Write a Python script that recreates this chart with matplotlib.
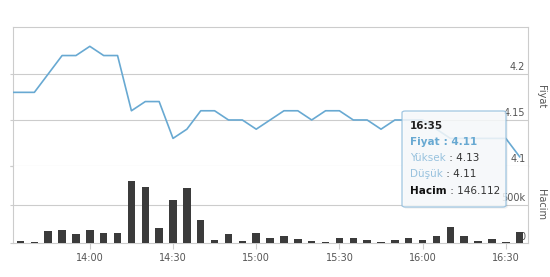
import matplotlib.pyplot as plt
from matplotlib.patches import FancyBboxPatch
from matplotlib.text import Annotation
from matplotlib.ticker import FuncFormatter

# fiyat 13:30'dan itibaren, hacim 13:35'ten itibaren (5 dakikalik)
price_times = ["13:30", "13:35", "13:40", "13:45", "13:50", "13:55",
               "14:00", "14:05", "14:10", "14:15", "14:20", "14:25",
               "14:30", "14:35", "14:40", "14:45", "14:50", "14:55",
               "15:00", "15:05", "15:10", "15:15", "15:20", "15:25",
               "15:30", "15:35", "15:40", "15:45", "15:50", "15:55",
               "16:00", "16:05", "16:10", "16:15", "16:20", "16:25",
               "16:30", "16:35"]
prices = [4.18, 4.18, 4.18, 4.20, 4.22, 4.22,
          4.23, 4.22, 4.22, 4.16, 4.17, 4.17,
          4.13, 4.14, 4.16, 4.16, 4.15, 4.15,
          4.14, 4.15, 4.16, 4.16, 4.15, 4.16,
          4.16, 4.15, 4.15, 4.14, 4.15, 4.15,
          4.15, 4.14, 4.13, 4.13, 4.13, 4.13,
          4.13, 4.11]
volume_times = price_times[1:]
volumes = [25, 10, 155, 175, 115,
           175, 130, 130, 800, 725, 200,
           560, 710, 305, 45, 115, 20,
           125, 60, 90, 50, 25, 12,
           70, 60, 35, 12, 35, 60,
           45, 90, 210, 90, 20, 50,
           8, 146]  # bin
tick_labels = ["14:00", "14:30", "15:00", "15:30", "16:00", "16:30"]


def to_min(s):
    h, m = s.split(":")
    return int(h) * 60 + int(m)


px = [to_min(t) for t in price_times]
vx = [to_min(t) for t in volume_times]
vy = [v * 1000 for v in volumes]

line_c = "#68a9d2"
grid_c = "#cccccc"
text_c = "#555555"

fig = plt.figure(figsize=(5.5, 2.77), dpi=100)
ax1 = fig.add_axes([13 / 550, 1 - 166 / 277, 515 / 550, 139 / 277])
ax2 = fig.add_axes([13 / 550, 1 - 243 / 277, 515 / 550, 77 / 277], sharex=ax1)

xmin, xmax = to_min("13:32") + 0.3, to_min("16:38")

# fiyat paneli
ax1.plot(px, prices, color=line_c, lw=1.2, zorder=3)
ax1.set_ylim(4.1, 4.251)
for g in [4.15, 4.2]:
    ax1.axhline(g, color=grid_c, lw=0.8, zorder=1)
for v, lab in [(4.1, "4.1"), (4.15, "4.15"), (4.2, "4.2")]:
    ax1.text(0.995, v + 0.002, lab, transform=ax1.get_yaxis_transform(),
             ha="right", va="bottom", fontsize=7, color=text_c, zorder=2)
ax1.set_yticks([4.1, 4.15, 4.2])
ax1.tick_params(axis="y", left=True, length=2, color=grid_c, labelleft=False)
ax1.tick_params(axis="x", bottom=False, labelbottom=False)
for s in ax1.spines.values():
    s.set_color(grid_c)
    s.set_linewidth(0.8)
ax1.text(1.025, 0.5, "Fiyat", transform=ax1.transAxes, rotation=-90,
         ha="center", va="center", fontsize=7, color=text_c)

# hacim paneli
ax2.bar(vx, vy, width=2.7, color="#3b3b3b", zorder=3)
ax2.set_ylim(0, 1000000)
ax2.axhline(500000, color=grid_c, lw=0.8, zorder=1)
for v, lab in [(0, "0"), (500000, "500k")]:
    ax2.text(0.995, v + 15000, lab, transform=ax2.get_yaxis_transform(),
             ha="right", va="bottom", fontsize=7, color=text_c, zorder=2)
ax2.set_yticks([0, 500000, 1000000])
ax2.tick_params(axis="y", left=True, length=2, color=grid_c, labelleft=False)
ax2.spines["top"].set_visible(False)
for s in ["left", "right", "bottom"]:
    ax2.spines[s].set_color(grid_c)
    ax2.spines[s].set_linewidth(0.8)
ax2.set_xlim(xmin, xmax)
ax2.set_xticks([to_min(t) for t in tick_labels])
ax2.xaxis.set_major_formatter(FuncFormatter(lambda x, p: "%d:%02d" % (x // 60, x % 60)))
ax2.tick_params(axis="x", length=4, color=grid_c, labelsize=7, labelcolor=text_c, pad=3)
ax2.text(1.025, 0.5, "Hacim", transform=ax2.transAxes, rotation=-90,
         ha="center", va="center", fontsize=7, color=text_c)

# tooltip
x0, x1 = 402 / 550, 506 / 550
y0, y1 = 1 - 207 / 277, 1 - 111 / 277
shadow = FancyBboxPatch((x0 + 0.003, y0 - 0.006), x1 - x0, y1 - y0,
                        boxstyle="round,pad=0,rounding_size=0.006",
                        transform=fig.transFigure, facecolor="#000000",
                        alpha=0.06, edgecolor="none", zorder=9)
box = FancyBboxPatch((x0, y0), x1 - x0, y1 - y0,
                     boxstyle="round,pad=0,rounding_size=0.006",
                     transform=fig.transFigure, facecolor="#f8fafc",
                     alpha=0.85, edgecolor="#8fbcdc", lw=0.9, zorder=10)
fig.add_artist(shadow)
fig.add_artist(box)

tx = 410 / 550
rows = [
    (126, "16:35", "#222222", "bold", "", "#222222"),
    (142, "Fiyat", line_c, "bold", " : 4.11", line_c),
    (158, "Yüksek", "#98c2de", "normal", " : 4.13", "#333333"),
    (174, "Düşük", "#98c2de", "normal", " : 4.11", "#333333"),
    (191, "Hacim", "#111111", "bold", " : 146.112", "#333333"),
]
for ypx, lab, lc, lw, val, vc in rows:
    t = fig.text(tx, 1 - ypx / 277, lab, ha="left", va="center", fontsize=7.5,
                 color=lc, fontweight=lw, zorder=11)
    if val:
        a = Annotation(val, xy=(1, 0), xycoords=t, ha="left", va="bottom",
                       fontsize=7.5, color=vc, zorder=11,
                       fontweight="bold" if lab == "Fiyat" else "normal",
                       annotation_clip=False)
        fig.add_artist(a)

fig.savefig("out.png", dpi=100)
